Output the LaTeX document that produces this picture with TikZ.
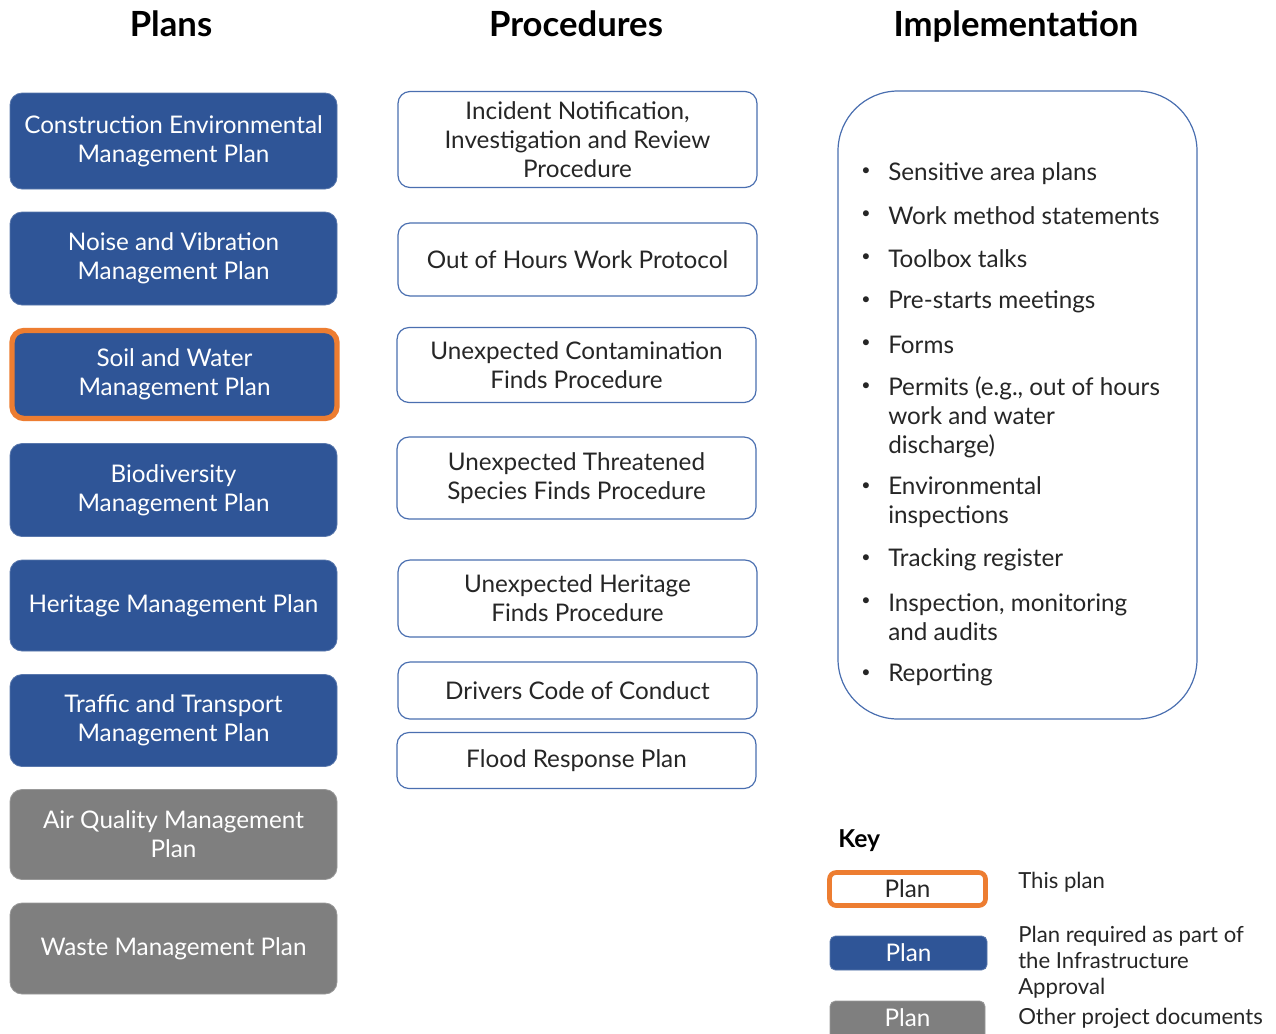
\documentclass[tikz,border=0pt]{standalone}
\usepackage{fontspec}
\setmainfont{Lato}
\definecolor{planblue}{HTML}{2F5597}
\definecolor{plangray}{HTML}{7F7F7F}
\definecolor{planorange}{HTML}{ED7D31}
\definecolor{edgeblue}{HTML}{4A6FB0}
\definecolor{txt}{HTML}{262626}
\tikzset{
  boxfont/.style={font=\fontsize{18.2}{21.75}\selectfont},
  planbox/.style={boxfont, rectangle, rounded corners=9pt, fill=planblue, draw=planblue!80!white, line width=0.6pt, text=white, align=center, inner sep=0pt},
  thisplan/.style={planbox, draw=planorange, line width=4pt},
  otherbox/.style={planbox, fill=plangray, draw=plangray!80!white},
  procbox/.style={boxfont, rectangle, rounded corners=9pt, draw=edgeblue, line width=0.9pt, fill=white, text=txt, align=center, inner sep=0pt},
  title/.style={font=\fontsize{26}{30}\selectfont\bfseries, text=black, text height=0.72em, text depth=0.2em, inner sep=0pt},
  itemtext/.style={boxfont, text=txt, anchor=west, align=left, inner sep=0pt},
  bullet/.style={font=\fontsize{12}{14}\selectfont, text=txt, inner sep=0pt},
  keytext/.style={font=\fontsize{16.6}{19.5}\selectfont, text=txt, anchor=north west, align=left, inner sep=0pt},
}
\begin{document}
\begin{tikzpicture}[x=0.75pt, y=-0.75pt]
\path[use as bounding box, fill=white] (0,0) rectangle (1276,1033);

% titles
\node[title] (tplans) at (171,33) {Plans};
\node[title] (tproc) at (576,33) {Procedures};
\node[title] (timpl) at (1016,33) {Implementation};

% plans
\node[planbox, minimum width=327*0.75pt, minimum height=96*0.75pt] (p1) at (173.5,141) {Construction Environmental\\Management Plan};
\node[planbox, minimum width=327*0.75pt, minimum height=93*0.75pt] (p2) at (173.5,258.5) {Noise and Vibration\\Management Plan};
\node[thisplan, minimum width=325*0.75pt, minimum height=88*0.75pt] (p3) at (174.5,374.5) {Soil and Water\\Management Plan};
\node[planbox, minimum width=327*0.75pt, minimum height=93*0.75pt] (p4) at (173.5,490) {Biodiversity\\Management Plan};
\node[planbox, minimum width=327*0.75pt, minimum height=91*0.75pt] (p5) at (173.5,605.5) {Heritage Management Plan};
\node[planbox, minimum width=327*0.75pt, minimum height=92*0.75pt] (p6) at (173.5,720.5) {Traffic and Transport\\Management Plan};
\node[otherbox, minimum width=327*0.75pt, minimum height=90*0.75pt] (p7) at (173.5,834.5) {Air Quality Management\\Plan};
\node[otherbox, minimum width=327*0.75pt, minimum height=91*0.75pt] (p8) at (173.5,948.5) {Waste Management Plan};

% procedures
\node[procbox, minimum width=359*0.75pt, minimum height=96*0.75pt] (q1) at (577.5,139.5) {Incident Notification,\\Investigation and Review\\Procedure};
\node[procbox, minimum width=359*0.75pt, minimum height=73*0.75pt] (q2) at (577.5,259.5) {Out of Hours Work Protocol};
\node[procbox, minimum width=359*0.75pt, minimum height=75*0.75pt] (q3) at (576.5,365) {Unexpected Contamination\\Finds Procedure};
\node[procbox, minimum width=359*0.75pt, minimum height=82*0.75pt] (q4) at (576.5,478) {Unexpected Threatened\\Species Finds Procedure};
\node[procbox, minimum width=359*0.75pt, minimum height=77*0.75pt] (q5) at (577.5,598.5) {Unexpected Heritage\\Finds Procedure};
\node[procbox, minimum width=359*0.75pt, minimum height=57*0.75pt] (q6) at (577.5,690.5) {Drivers Code of Conduct};
\node[procbox, minimum width=359*0.75pt, minimum height=56*0.75pt] (q7) at (576.5,760.5) {Flood Response Plan};

% implementation
\node[procbox, rounded corners=45pt, minimum width=359*0.75pt, minimum height=628*0.75pt] (impl) at (1017.5,405) {};
\foreach \y in {172,215,258,301,344,387,487,559,602,674}
  \node[bullet] (b\y) at (866,\y) {\textbullet};
\node[itemtext] (i1) at (888,174) {Sensitive area plans};
\node[itemtext] (i2) at (888,216) {Work method statements};
\node[itemtext] (i3) at (888,259) {Toolbox talks};
\node[itemtext] (i4) at (888,302) {Pre-starts meetings};
\node[itemtext] (i5) at (888,345) {Forms};
\node[itemtext] (i6) at (888,417) {Permits (e.g., out of hours\\work and water\\discharge)};
\node[itemtext] (i7) at (888,502.5) {Environmental\\inspections};
\node[itemtext] (i8) at (888,560) {Tracking register};
\node[itemtext] (i9) at (888,617.5) {Inspection, monitoring\\and audits};
\node[itemtext] (i10) at (888,675) {Reporting};

% key
\node[font=\fontsize{18.5}{22}\selectfont\bfseries, text=black, anchor=west, inner sep=0pt] (key) at (838,841) {Key};
\node[procbox, draw=planorange, line width=3.5pt, rounded corners=5pt, minimum width=156*0.75pt, minimum height=33*0.75pt] (k1) at (907.5,889) {Plan};
\node[planbox, rounded corners=4pt, minimum width=157*0.75pt, minimum height=34*0.75pt] (k2) at (908.5,953) {Plan};
\node[otherbox, rounded corners=4pt, minimum width=155*0.75pt, minimum height=40*0.75pt] (k3) at (907.5,1021) {};
\node[boxfont, text=white, inner sep=0pt] (k3t) at (907.5,1018) {Plan};
\node[keytext] (d1) at (1018,872) {This plan};
\node[keytext] (d2) at (1018,926) {Plan required as part of\\the Infrastructure\\Approval};
\node[keytext] (d3) at (1018,1008) {Other project documents};
\end{tikzpicture}
\end{document}
